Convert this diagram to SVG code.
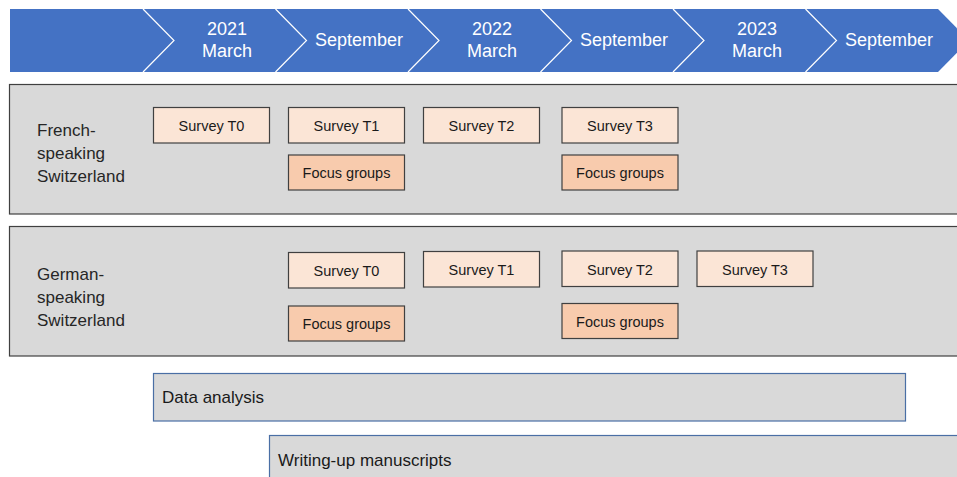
<svg xmlns="http://www.w3.org/2000/svg" width="957" height="477" viewBox="0 0 957 477">
<style>
text{font-family:"Liberation Sans",Arial,sans-serif;}
.hd{fill:#fff;font-size:18px;text-anchor:middle;}
.div{fill:none;stroke:#fff;stroke-width:1.2;}
.panel{fill:#d9d9d9;stroke:#404040;stroke-width:1.2;}
.lbl{fill:#262626;font-size:17px;}
.sv{fill:#fbe5d6;stroke:#404040;stroke-width:1.2;}
.fg{fill:#f8cbad;stroke:#404040;stroke-width:1.2;}
.bt{fill:#1a1a1a;font-size:14.5px;text-anchor:middle;}
.bar{fill:#d9d9d9;stroke:#4a6fa5;stroke-width:1.2;}
.bl{fill:#1a1a1a;font-size:17px;}
</style>
<g id="timeline">
<polygon points="10,9 938,9 969,40.5 938,72 10,72" fill="#4472c4"/>
<polyline class="div" points="143,9 174,40.5 143,72"/>
<polyline class="div" points="275.5,9 306.5,40.5 275.5,72"/>
<polyline class="div" points="408,9 439,40.5 408,72"/>
<polyline class="div" points="540.5,9 571.5,40.5 540.5,72"/>
<polyline class="div" points="673,9 704,40.5 673,72"/>
<polyline class="div" points="805.5,9 836.5,40.5 805.5,72"/>
<text class="hd" x="227" y="35">2021</text>
<text class="hd" x="227" y="57">March</text>
<text class="hd" x="359" y="46">September</text>
<text class="hd" x="492" y="35">2022</text>
<text class="hd" x="492" y="57">March</text>
<text class="hd" x="624" y="46">September</text>
<text class="hd" x="757" y="35">2023</text>
<text class="hd" x="757" y="57">March</text>
<text class="hd" x="889" y="46">September</text>
</g>
<g id="panel-french">
<rect class="panel" x="9.5" y="84.5" width="950" height="129.5"/>
<text class="lbl" x="37" y="136">French-</text>
<text class="lbl" x="37" y="159">speaking</text>
<text class="lbl" x="37" y="182">Switzerland</text>
</g>
<g id="fr-t0"><rect class="sv" x="153.5" y="107.5" width="116" height="35.5"/><text class="bt" x="211.5" y="131">Survey T0</text></g>
<g id="fr-t1"><rect class="sv" x="288.5" y="107.5" width="116" height="35.5"/><text class="bt" x="346.5" y="131">Survey T1</text></g>
<g id="fr-fg1"><rect class="fg" x="288.5" y="155" width="116" height="35"/><text class="bt" x="346.5" y="178">Focus groups</text></g>
<g id="fr-t2"><rect class="sv" x="423.5" y="107.5" width="116" height="35.5"/><text class="bt" x="481.5" y="131">Survey T2</text></g>
<g id="fr-t3"><rect class="sv" x="562" y="107.5" width="116" height="35.5"/><text class="bt" x="620" y="131">Survey T3</text></g>
<g id="fr-fg2"><rect class="fg" x="562" y="155" width="116" height="35"/><text class="bt" x="620" y="178">Focus groups</text></g>
<g id="panel-german">
<rect class="panel" x="9.5" y="226.5" width="950" height="129.5"/>
<text class="lbl" x="37" y="280">German-</text>
<text class="lbl" x="37" y="303">speaking</text>
<text class="lbl" x="37" y="326">Switzerland</text>
</g>
<g id="de-t0"><rect class="sv" x="288.5" y="252.5" width="116" height="35.5"/><text class="bt" x="346.5" y="276">Survey T0</text></g>
<g id="de-fg1"><rect class="fg" x="288.5" y="306" width="116" height="35"/><text class="bt" x="346.5" y="329">Focus groups</text></g>
<g id="de-t1"><rect class="sv" x="423.5" y="251.5" width="116" height="35.5"/><text class="bt" x="481.5" y="275">Survey T1</text></g>
<g id="de-t2"><rect class="sv" x="562" y="251" width="116" height="35.5"/><text class="bt" x="620" y="274.5">Survey T2</text></g>
<g id="de-t3"><rect class="sv" x="697" y="251" width="116" height="35.5"/><text class="bt" x="755" y="274.5">Survey T3</text></g>
<g id="de-fg2"><rect class="fg" x="562" y="303.5" width="116" height="35"/><text class="bt" x="620" y="327">Focus groups</text></g>
<g id="data-analysis"><rect class="bar" x="153.5" y="373.5" width="752" height="47.5"/><text class="bl" x="162" y="403">Data analysis</text></g>
<g id="writing-up"><rect class="bar" x="269.5" y="435.5" width="700" height="60"/><text class="bl" x="278" y="466">Writing-up manuscripts</text></g>
<g id="connectors"/>
</svg>
